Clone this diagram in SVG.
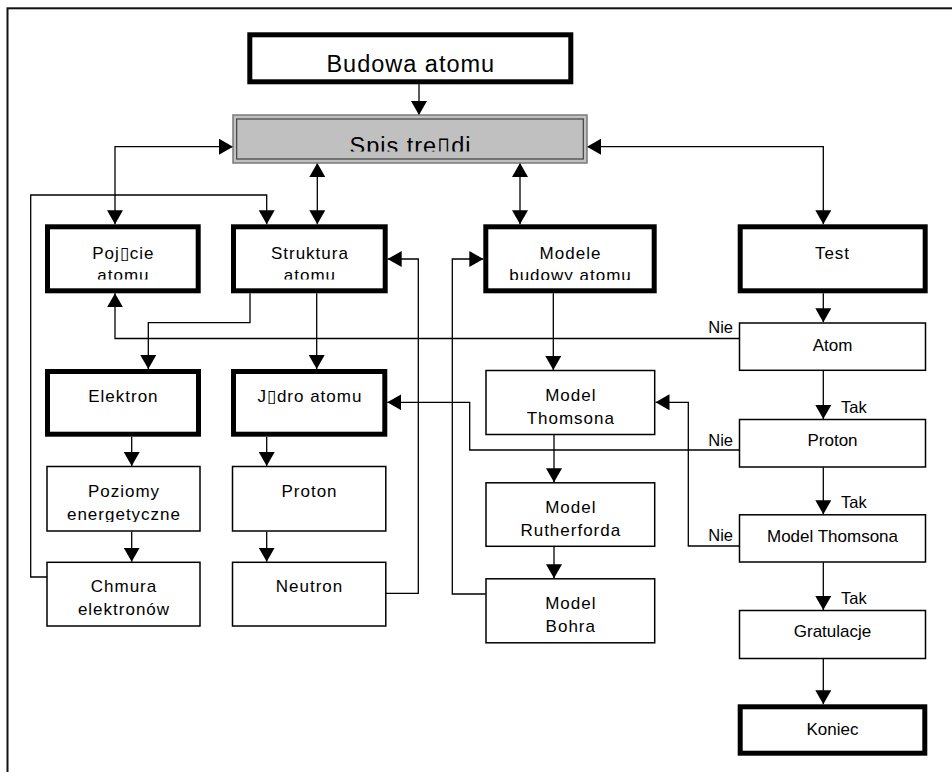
<svg xmlns="http://www.w3.org/2000/svg" width="952" height="772" viewBox="0 0 952 772">
  <style>
    .thick { fill: #fff; stroke: #000; stroke-width: 5; }
    .thin { fill: #fff; stroke: #000; stroke-width: 1.5; }
    .wire { fill: none; stroke: #000; stroke-width: 1.3; }
    .t { font-family: "Liberation Sans", Arial, sans-serif; font-size: 17px; fill: #000; text-anchor: middle; }
    .sp { letter-spacing: 1px; }
    .big { font-size: 23.5px; letter-spacing: 1px; }
    .lbl { font-family: "Liberation Sans", Arial, sans-serif; font-size: 16.5px; fill: #000; }
  </style>
  <defs>
    <marker id="ah" viewBox="0 0 14 16" refX="14" refY="8" markerWidth="14" markerHeight="16" markerUnits="userSpaceOnUse" orient="auto-start-reverse">
      <path d="M0,0 L14,8 L0,16 z" fill="#000"/>
    </marker>
    <clipPath id="clipSpis"><rect x="237" y="119" width="346" height="32.5"/></clipPath>
    <clipPath id="clipPoj"><rect x="50" y="230" width="146" height="49.5"/></clipPath>
    <clipPath id="clipStr"><rect x="236" y="230" width="147" height="49.5"/></clipPath>
    <clipPath id="clipMod"><rect x="488" y="230" width="164" height="50"/></clipPath>
    <clipPath id="clipPoz"><rect x="48" y="467" width="151" height="55"/></clipPath>
  </defs>

  <rect width="952" height="772" fill="#fff"/>
  <!-- page frame -->
  <rect x="7.5" y="8.3" width="980" height="800" fill="none" stroke="#111" stroke-width="2"/>

  <!-- connectors -->
  <g id="connectors" class="wire">
    <path d="M419,84.3 V115" marker-end="url(#ah)"/>
    <path d="M233,146.7 H115 V224.3" marker-start="url(#ah)" marker-end="url(#ah)"/>
    <path d="M587,146.7 H823.3 V224.3" marker-start="url(#ah)" marker-end="url(#ah)"/>
    <path d="M317.3,163 V224.3" marker-start="url(#ah)" marker-end="url(#ah)"/>
    <path d="M520,163 V224.3" marker-start="url(#ah)" marker-end="url(#ah)"/>
    <path d="M47,577 H30.7 V195 H266.7 V224.3" marker-end="url(#ah)"/>
    <path d="M386,593.3 H418.3 V259 H387.7" marker-end="url(#ah)"/>
    <path d="M485.7,594 H452.3 V259 H483.3" marker-end="url(#ah)"/>
    <path d="M250,293.3 V322.7 H148.3 V369" marker-end="url(#ah)"/>
    <path d="M316.7,293.3 V369" marker-end="url(#ah)"/>
    <path d="M739,338.5 H115 V293.3" marker-end="url(#ah)"/>
    <path d="M553.3,293.3 V370" marker-end="url(#ah)"/>
    <path d="M554,435 V482.3" marker-end="url(#ah)"/>
    <path d="M554,546.7 V578.3" marker-end="url(#ah)"/>
    <path d="M131.7,436.7 V466" marker-end="url(#ah)"/>
    <path d="M131.7,531.7 V561.7" marker-end="url(#ah)"/>
    <path d="M266.7,436.7 V466" marker-end="url(#ah)"/>
    <path d="M266.7,531.7 V561.7" marker-end="url(#ah)"/>
    <path d="M823.3,293.3 V322.3" marker-end="url(#ah)"/>
    <path d="M823.3,370.7 V419" marker-end="url(#ah)"/>
    <path d="M739,450 H469.7 V402.3 H387.3" marker-end="url(#ah)"/>
    <path d="M739,546 H688.3 V402.3 H655.5" marker-end="url(#ah)"/>
    <path d="M823.3,467.3 V514.3" marker-end="url(#ah)"/>
    <path d="M823.3,562.3 V610" marker-end="url(#ah)"/>
    <path d="M823.3,659 V704.3" marker-end="url(#ah)"/>
  </g>

  <!-- branch labels -->
  <g id="labels">
    <text class="lbl" x="733" y="333" text-anchor="end">Nie</text>
    <text class="lbl" x="733" y="446" text-anchor="end">Nie</text>
    <text class="lbl" x="733" y="541" text-anchor="end">Nie</text>
    <text class="lbl" x="841" y="412.7">Tak</text>
    <text class="lbl" x="841" y="508.3">Tak</text>
    <text class="lbl" x="841" y="604.3">Tak</text>
  </g>

  <!-- nodes -->
  <g id="budowa">
    <rect class="thick" x="249.8" y="34.8" width="321" height="47"/>
    <text class="t big" x="410.8" y="72">Budowa atomu</text>
  </g>
  <g id="spis">
    <rect x="233" y="115" width="354" height="48" fill="#c0c0c0" stroke="#7a7a7a" stroke-width="1.5"/>
    <rect x="236.7" y="119" width="346.6" height="40" fill="none" stroke="#404040" stroke-width="1.2"/>
    <text class="t big" x="410.5" y="153.5" clip-path="url(#clipSpis)">Spis tre▯di</text>
  </g>
  <g id="pojecie">
    <rect class="thick" x="47.5" y="226.8" width="150.7" height="64"/>
    <g clip-path="url(#clipPoj)">
      <text class="t sp" x="123.4" y="259">Poj▯cie</text>
      <text class="t sp" x="123.4" y="281">atomu</text>
    </g>
  </g>
  <g id="struktura">
    <rect class="thick" x="233.5" y="226.8" width="151.7" height="64"/>
    <g clip-path="url(#clipStr)">
      <text class="t sp" x="309.9" y="259">Struktura</text>
      <text class="t sp" x="309.9" y="281">atomu</text>
    </g>
  </g>
  <g id="modele">
    <rect class="thick" x="485.8" y="226.8" width="168.4" height="64"/>
    <g clip-path="url(#clipMod)">
      <text class="t sp" x="570.5" y="259">Modele</text>
      <text class="t sp" x="570.5" y="281">budowy atomu</text>
    </g>
  </g>
  <g id="test">
    <rect class="thick" x="740.2" y="226.8" width="185" height="64"/>
    <text class="t sp" x="832.5" y="259">Test</text>
  </g>
  <g id="elektron">
    <rect class="thick" x="47.5" y="371.5" width="151" height="62.7"/>
    <text class="t sp" x="123.4" y="402">Elektron</text>
  </g>
  <g id="jadro">
    <rect class="thick" x="233.5" y="371.5" width="151.3" height="62.7"/>
    <text class="t sp" x="309.9" y="402">J▯dro atomu</text>
  </g>
  <g id="poziomy">
    <rect class="thin" x="47" y="466.5" width="153" height="64.5"/>
    <g clip-path="url(#clipPoz)">
      <text class="t sp" x="124" y="497">Poziomy</text>
      <text class="t sp" x="124" y="519.5">energetyczne</text>
    </g>
  </g>
  <g id="chmura">
    <rect class="thin" x="47" y="562.3" width="153" height="63.7"/>
    <text class="t sp" x="124" y="592.3">Chmura</text>
    <text class="t sp" x="124" y="615">elektronów</text>
  </g>
  <g id="proton-jadro">
    <rect class="thin" x="232.5" y="466.5" width="153.3" height="64.5"/>
    <text class="t sp" x="309.5" y="497">Proton</text>
  </g>
  <g id="neutron">
    <rect class="thin" x="232.5" y="562.3" width="153.3" height="63.7"/>
    <text class="t sp" x="309.5" y="592.3">Neutron</text>
  </g>
  <g id="thomson">
    <rect class="thin" x="486" y="370.5" width="168.7" height="64"/>
    <text class="t sp" x="570.8" y="401">Model</text>
    <text class="t sp" x="570.8" y="423.5">Thomsona</text>
  </g>
  <g id="rutherford">
    <rect class="thin" x="486" y="482.8" width="168.7" height="63.5"/>
    <text class="t sp" x="570.8" y="513">Model</text>
    <text class="t sp" x="570.8" y="536">Rutherforda</text>
  </g>
  <g id="bohr">
    <rect class="thin" x="486" y="578.8" width="168.7" height="64"/>
    <text class="t sp" x="570.8" y="608.5">Model</text>
    <text class="t sp" x="570.8" y="632">Bohra</text>
  </g>
  <g id="q-atom">
    <rect class="thin" x="739.5" y="323" width="186" height="47.3"/>
    <text class="t" x="832.5" y="351">Atom</text>
  </g>
  <g id="q-proton">
    <rect class="thin" x="739.5" y="419.5" width="186" height="47.5"/>
    <text class="t" x="832.5" y="446">Proton</text>
  </g>
  <g id="q-thomson">
    <rect class="thin" x="739.5" y="514.8" width="186" height="47.2"/>
    <text class="t" x="832.5" y="542">Model Thomsona</text>
  </g>
  <g id="gratulacje">
    <rect class="thin" x="739.5" y="610.5" width="186" height="48"/>
    <text class="t" x="832.5" y="637">Gratulacje</text>
  </g>
  <g id="koniec">
    <rect class="thick" x="740.2" y="706.8" width="184.6" height="46.4"/>
    <text class="t" x="832.5" y="735">Koniec</text>
  </g>
</svg>
